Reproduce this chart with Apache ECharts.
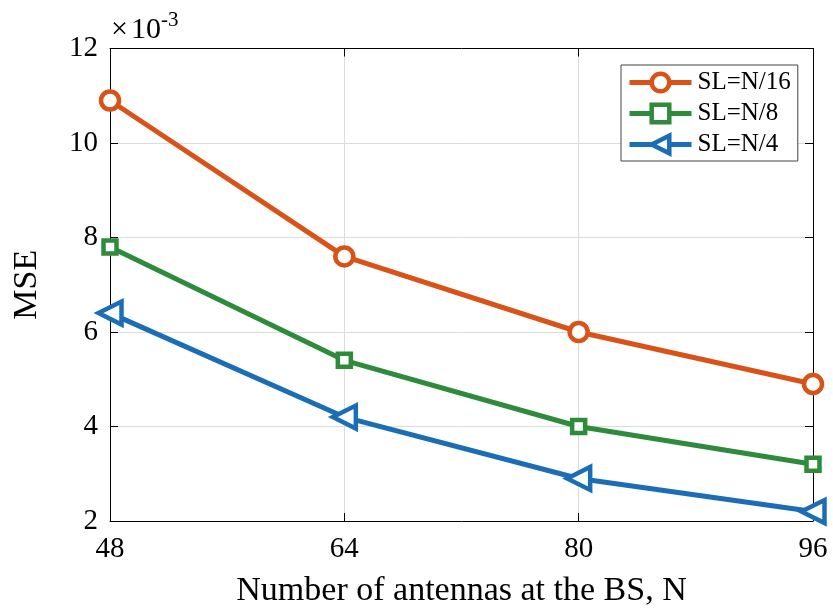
<!DOCTYPE html>
<html>
<head>
<meta charset="utf-8">
<script src="https://cdn.jsdelivr.net/npm/echarts@6/dist/echarts.min.js"></script>
<style>
  html, body { margin: 0; padding: 0; background: #fff; }
  #chart { width: 833px; height: 609px; }
</style>
</head>
<body>
<div id="chart"></div>
<script>
// Antenna counts at the base station
const antennas = [48, 64, 80, 96];
// MSE values, in units of 1e-3
const mseN16 = [10.9, 7.6, 6.0, 4.9];
const mseN8 = [7.8, 5.4, 4.0, 3.2];
const mseN4 = [6.4, 4.2, 2.9, 2.2];
const seriesNames = ['SL=N/16', 'SL=N/8', 'SL=N/4'];

const font = '"Liberation Serif", "Times New Roman", serif';
const colors = ['#D95319', '#2E8B3C', '#1B6EB6'];

const pairs = arr => antennas.map((x, i) => [x, arr[i]]);

const chart = echarts.init(document.getElementById('chart'), null, { renderer: 'canvas' });

const baseX = {
  type: 'value', min: 48, max: 96, interval: 16,
  axisLine: { show: true, lineStyle: { color: '#000', width: 1 } },
  axisTick: { show: true, inside: true, length: 8, lineStyle: { color: '#000' } },
};
const baseY = {
  type: 'value', min: 2, max: 12, interval: 2,
  axisLine: { show: true, lineStyle: { color: '#000', width: 1 } },
  axisTick: { show: true, inside: true, length: 8, lineStyle: { color: '#000' } },
};

function lineSeries(name, data, color, symbol, size, rotate) {
  return {
    name, type: 'line', data: pairs(data),
    symbol, symbolSize: size, symbolRotate: rotate || 0,
    showAllSymbol: true,
    lineStyle: { color, width: 5 },
    itemStyle: { color: '#fff', borderColor: color, borderWidth: 4.5 },
    emphasis: { disabled: true },
    z: 3,
    clip: false,
  };
}

chart.setOption({
  animation: false,
  backgroundColor: '#fff',
  grid: { left: 110, right: 20, top: 48.5, bottom: 88, containLabel: false, outerBoundsMode: 'none' },
  xAxis: [
    Object.assign({}, baseX, {
      position: 'bottom',
      name: 'Number of antennas at the BS, N',
      nameLocation: 'middle', nameGap: 53,
      nameTextStyle: { fontFamily: font, fontSize: 34, color: '#000' },
      axisLabel: { fontFamily: font, fontSize: 29, color: '#000', margin: 14 },
      splitLine: { show: true, lineStyle: { color: '#dcdcdc', width: 1 } },
    }),
    Object.assign({}, baseX, {
      position: 'top',
      axisLabel: { show: false },
      splitLine: { show: false },
    }),
  ],
  yAxis: [
    Object.assign({}, baseY, {
      position: 'left',
      name: 'MSE',
      nameLocation: 'middle', nameGap: 66, nameRotate: 90,
      nameTextStyle: { fontFamily: font, fontSize: 34, color: '#000' },
      axisLabel: { fontFamily: font, fontSize: 29, color: '#000', margin: 12 },
      splitLine: { show: true, lineStyle: { color: '#dcdcdc', width: 1 } },
    }),
    Object.assign({}, baseY, {
      position: 'right',
      axisLabel: { show: false },
      splitLine: { show: false },
    }),
  ],
  legend: {
    orient: 'vertical',
    left: 621, top: 65,
    data: seriesNames,
    backgroundColor: '#fff',
    borderColor: '#444', borderWidth: 1, borderRadius: 0,
    padding: [5, 7, 4, 6],
    itemGap: 6,
    itemWidth: 62, itemHeight: 22,
    lineStyle: { width: 5 },
    itemStyle: { borderWidth: 4.5 },
    textStyle: { fontFamily: font, fontSize: 25, color: '#000', padding: [0, 0, 0, 1] },
  },
  graphic: [{
    type: 'text', left: 111, top: 10,
    style: {
      text: '{x|\u00d7}{m|10}{s|-3}',
      rich: {
        x: { fontFamily: font, fontSize: 30, fill: '#000', verticalAlign: 'bottom', padding: [0, 3, 0, 0] },
        m: { fontFamily: font, fontSize: 30, fill: '#000', verticalAlign: 'bottom' },
        s: { fontFamily: font, fontSize: 21, fill: '#000', verticalAlign: 'top', padding: [0, 0, 14, 0] },
      },
    },
  }],
  series: [
    lineSeries(seriesNames[0], mseN16, colors[0], 'circle', 18),
    lineSeries(seriesNames[1], mseN8, colors[1], 'rect', 13),
    lineSeries(seriesNames[2], mseN4, colors[2], 'triangle', 23, 90),
  ],
});
</script>
</body>
</html>
